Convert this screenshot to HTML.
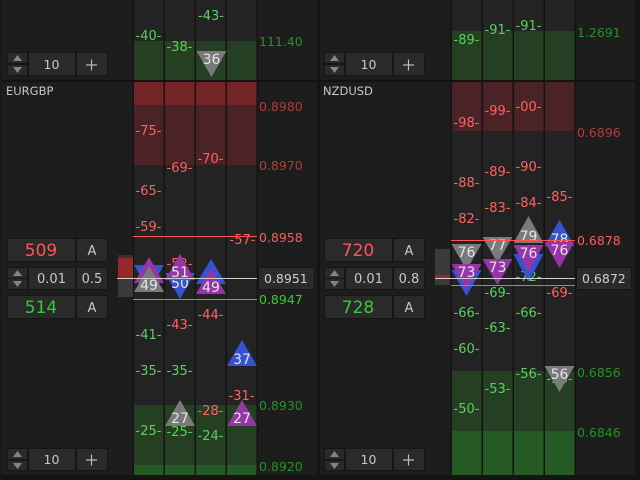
<!DOCTYPE html>
<html><head><meta charset="utf-8"><style>
html,body{margin:0;padding:0;background:#1d1d1d;width:640px;height:480px;overflow:hidden}
svg{display:block}
.lb{font-size:13px;text-anchor:middle}
.r{fill:#ff6262}.g{fill:#5cd05c}
.pl{font-size:12.5px}
.tt{font-size:14px;fill:#e4e4e4;text-anchor:middle}
.ct{fill:#c8c8c8;text-anchor:middle}
</style></head><body>
<svg width="640" height="480" viewBox="0 0 640 480" font-family="'DejaVu Sans','Liberation Sans',sans-serif">
<rect width="640" height="480" fill="#1d1d1d"/>
<rect x="133" y="0" width="124" height="475" fill="#232323"/>
<rect x="451" y="0" width="124" height="475" fill="#232323"/>
<rect x="133" y="41" width="124" height="39" fill="#243f22"/>
<rect x="133" y="82" width="124" height="23" fill="#732426"/>
<rect x="133" y="105" width="124" height="60" fill="#4b2326"/>
<rect x="133" y="405" width="124" height="60" fill="#243f22"/>
<rect x="133" y="465" width="124" height="10" fill="#255a25"/>
<rect x="451" y="31" width="124" height="49" fill="#243f22"/>
<rect x="451" y="82" width="124" height="49" fill="#4b2326"/>
<rect x="451" y="371" width="124" height="60" fill="#243f22"/>
<rect x="451" y="431" width="124" height="44" fill="#255a25"/>
<g fill="#131313">
<rect x="132.5" y="0" width="1.5" height="475"/><rect x="163.5" y="0" width="1.5" height="475"/><rect x="194.5" y="0" width="1.5" height="475"/><rect x="225.5" y="0" width="1.5" height="475"/><rect x="256.5" y="0" width="1.5" height="475"/>
<rect x="450.5" y="0" width="1.5" height="475"/><rect x="481.5" y="0" width="1.5" height="475"/><rect x="512.5" y="0" width="1.5" height="475"/><rect x="543.5" y="0" width="1.5" height="475"/><rect x="574.5" y="0" width="1.5" height="475"/>
</g>
<rect x="0" y="80" width="640" height="2" fill="#131313"/>
<rect x="317" y="0" width="3" height="480" fill="#141414"/>
<rect x="635" y="0" width="5" height="480" fill="#141414"/>
<rect x="0" y="475" width="640" height="5" fill="#141414"/>
<rect x="0" y="0" width="2" height="480" fill="#181818"/>

<g class="lb">
<text class="g" x="211" y="20">-43-</text>
<text class="g" x="148.5" y="40">-40-</text>
<text class="g" x="179.5" y="51">-38-</text>
<text class="r" x="148.5" y="135">-75-</text>
<text class="r" x="179.5" y="172">-69-</text>
<text class="r" x="210.5" y="163">-70-</text>
<text class="r" x="148.5" y="195">-65-</text>
<text class="r" x="148.5" y="231">-59-</text>
<text class="r" x="242.5" y="244">-57-</text>
<text class="r" x="179.5" y="268">-52-</text>
<text class="r" x="210.5" y="319">-44-</text>
<text class="r" x="179.5" y="329">-43-</text>
<text class="g" x="148.5" y="339">-41-</text>
<text class="g" x="148.5" y="375">-35-</text>
<text class="g" x="179.5" y="375">-35-</text>
<text class="r" x="241.5" y="400">-31-</text>
<text class="r" x="210.5" y="415">-28-</text>
<text class="g" x="148.5" y="435">-25-</text>
<text class="g" x="179.5" y="436">-25-</text>
<text class="g" x="210.5" y="440">-24-</text>
</g>
<g class="lb">
<text class="g" x="466.5" y="44">-89-</text>
<text class="g" x="497.5" y="34">-91-</text>
<text class="g" x="528.5" y="30">-91-</text>
<text class="r" x="466.5" y="127">-98-</text>
<text class="r" x="497.5" y="115">-99-</text>
<text class="r" x="528.5" y="111">-00-</text>
<text class="r" x="466.5" y="187">-88-</text>
<text class="r" x="497.5" y="176">-89-</text>
<text class="r" x="528.5" y="171">-90-</text>
<text class="r" x="466.5" y="223">-82-</text>
<text class="r" x="497.5" y="212">-83-</text>
<text class="r" x="528.5" y="207">-84-</text>
<text class="r" x="559.5" y="201">-85-</text>
<text class="g" x="528.5" y="281">-72-</text>
<text class="g" x="497.5" y="297">-69-</text>
<text class="r" x="559.5" y="297">-69-</text>
<text class="g" x="466.5" y="317">-66-</text>
<text class="g" x="528.5" y="317">-66-</text>
<text class="g" x="497.5" y="332">-63-</text>
<text class="g" x="466.5" y="353">-60-</text>
<text class="g" x="528.5" y="378">-56-</text>
<text class="g" x="559.5" y="383">-56-</text>
<text class="g" x="497.5" y="393">-53-</text>
<text class="g" x="466.5" y="413">-50-</text>
</g>

<polygon points="196.5,51 226.5,51 211.5,77" fill="#7a7a7a"/><text class="tt" x="211.5" y="64">36</text>
<polygon points="134,265 164,265 149,291" fill="#3452d2"/>
<polygon points="149,257 134,283 164,283" fill="#9636a6"/>
<polygon points="149,266 134,292 164,292" fill="#7a7a7a"/><text class="tt" x="149" y="290">49</text>
<polygon points="165,273 195,273 180,299" fill="#3452d2"/><text class="tt" x="180" y="288">50</text>
<polygon points="180,254 165,280 195,280" fill="#9636a6"/><text class="tt" x="180" y="277">51</text>
<polygon points="211,259 196,284 226,284" fill="#3452d2"/>
<polygon points="211,268 196,294 226,294" fill="#9636a6"/><text class="tt" x="211" y="292">49</text>
<polygon points="242,340 227,366 257,366" fill="#3452d2"/><text class="tt" x="242" y="364">37</text>
<polygon points="180,400 165,426 195,426" fill="#7a7a7a"/><text class="tt" x="180" y="423">27</text>
<polygon points="242,400 227,426 257,426" fill="#9636a6"/><text class="tt" x="242" y="423">27</text>

<polygon points="451.5,270 481.5,270 466.5,296" fill="#3452d2"/>
<polygon points="451.5,244 481.5,244 466.5,270" fill="#7a7a7a"/><text class="tt" x="466.5" y="257">76</text>
<polygon points="451.5,264 481.5,264 466.5,289" fill="#9636a6"/><text class="tt" x="466.5" y="277">73</text>
<polygon points="482.5,237 512.5,237 497.5,263" fill="#7a7a7a"/><text class="tt" x="497.5" y="250">77</text>
<polygon points="482.5,259 512.5,259 497.5,285" fill="#9636a6"/><text class="tt" x="497.5" y="272">73</text>
<polygon points="528.5,216 513.5,243 543.5,243" fill="#7a7a7a"/><text class="tt" x="528.5" y="241">79</text>
<polygon points="513.5,254 543.5,254 528.5,282" fill="#3452d2"/>
<polygon points="513.5,245 543.5,245 528.5,272" fill="#9636a6"/><text class="tt" x="528.5" y="258">76</text>
<polygon points="559.5,220 544.5,246 574.5,246" fill="#3452d2"/><text class="tt" x="559.5" y="244">78</text>
<polygon points="544.5,242 574.5,242 559.5,268" fill="#9636a6"/><text class="tt" x="559.5" y="255">76</text>
<polygon points="544.5,366 574.5,366 559.5,392" fill="#7a7a7a"/><text class="tt" x="559.5" y="379">56</text>

<rect x="118" y="255" width="15" height="3" fill="#333"/>
<rect x="118" y="258" width="15" height="20" fill="#952828"/>
<rect x="118" y="278" width="15" height="19" fill="#3a3a3a"/>
<rect x="435" y="249" width="15" height="36" fill="#3a3a3a"/>
<rect x="435" y="275" width="15" height="3" fill="#9a2a2a"/>

<rect x="133" y="236" width="124" height="1" fill="#ff5252"/>
<rect x="117" y="278" width="140" height="1" fill="#d0d0d0"/>
<rect x="133" y="299" width="124" height="1" fill="#3cc83c"/>
<rect x="451" y="240" width="124" height="1" fill="#ff5252"/>
<rect x="435" y="278" width="140" height="1" fill="#d0d0d0"/>
<rect x="451" y="285" width="124" height="1" fill="#3cc83c"/>

<g class="pl">
<text x="259" y="46" fill="#229422">111.40</text>
<text x="259" y="111" fill="#b53a3a">0.8980</text>
<text x="259" y="170" fill="#b53a3a">0.8970</text>
<text x="259" y="242" fill="#ff5c5c">0.8958</text>
<rect x="258.5" y="267.5" width="56" height="22" fill="#2b2b2b" stroke="#151515"/>
<text x="264" y="283" fill="#cfcfcf">0.8951</text>
<text x="259" y="304" fill="#36cc36">0.8947</text>
<text x="259" y="410" fill="#229422">0.8930</text>
<text x="259" y="471" fill="#229422">0.8920</text>
</g>
<g class="pl">
<text x="577" y="37" fill="#229422">1.2691</text>
<text x="577" y="137" fill="#b53a3a">0.6896</text>
<text x="577" y="245" fill="#ff5c5c">0.6878</text>
<rect x="576.5" y="267.5" width="55" height="22" fill="#2b2b2b" stroke="#151515"/>
<text x="582" y="283" fill="#cfcfcf">0.6872</text>
<text x="577" y="377" fill="#229422">0.6856</text>
<text x="577" y="437" fill="#229422">0.6846</text>
</g>

<text x="6" y="95" font-size="11.5" fill="#c8c8c8">EURGBP</text>
<text x="323" y="95" font-size="11.5" fill="#c8c8c8">NZDUSD</text>

<g stroke="#161616" fill="#2a2a2a">
<rect x="7.5" y="52.5" width="20" height="11"/><rect x="7.5" y="64.5" width="20" height="11"/>
<rect x="28.5" y="52.5" width="47" height="23"/><rect x="76.5" y="52.5" width="31" height="23"/>
<rect x="7.5" y="448.5" width="20" height="11"/><rect x="7.5" y="460.5" width="20" height="10"/>
<rect x="28.5" y="448.5" width="47" height="22"/><rect x="76.5" y="448.5" width="31" height="22"/>
<rect x="7.5" y="238.5" width="68" height="23"/><rect x="76.5" y="238.5" width="31" height="23"/>
<rect x="7.5" y="267.5" width="20" height="11"/><rect x="7.5" y="278.5" width="20" height="11"/>
<rect x="28.5" y="267.5" width="47" height="22"/><rect x="76.5" y="267.5" width="31" height="22"/>
<rect x="7.5" y="295.5" width="68" height="23"/><rect x="76.5" y="295.5" width="31" height="23"/>
</g>
<g stroke="#161616" fill="#2a2a2a">
<rect x="324.5" y="52.5" width="20" height="11"/><rect x="324.5" y="64.5" width="20" height="11"/>
<rect x="345.5" y="52.5" width="47" height="23"/><rect x="393.5" y="52.5" width="31" height="23"/>
<rect x="324.5" y="448.5" width="20" height="11"/><rect x="324.5" y="460.5" width="20" height="10"/>
<rect x="345.5" y="448.5" width="47" height="22"/><rect x="393.5" y="448.5" width="31" height="22"/>
<rect x="324.5" y="238.5" width="68" height="23"/><rect x="393.5" y="238.5" width="31" height="23"/>
<rect x="324.5" y="267.5" width="20" height="11"/><rect x="324.5" y="278.5" width="20" height="11"/>
<rect x="345.5" y="267.5" width="47" height="22"/><rect x="393.5" y="267.5" width="31" height="22"/>
<rect x="324.5" y="295.5" width="68" height="23"/><rect x="393.5" y="295.5" width="31" height="23"/>
</g>
<g fill="#858585">
<polygon points="13,61 22,61 17.5,55"/><polygon points="13,67 22,67 17.5,73"/>
<polygon points="13,457 22,457 17.5,451"/><polygon points="13,463 22,463 17.5,469"/>
<polygon points="13,276 22,276 17.5,270"/><polygon points="13,281 22,281 17.5,287"/>
<polygon points="330,61 339,61 334.5,55"/><polygon points="330,67 339,67 334.5,73"/>
<polygon points="330,457 339,457 334.5,451"/><polygon points="330,463 339,463 334.5,469"/>
<polygon points="330,276 339,276 334.5,270"/><polygon points="330,281 339,281 334.5,287"/>
</g>
<g stroke="#bdbdbd" stroke-width="1.2">
<line x1="86" y1="65" x2="97" y2="65"/><line x1="91.5" y1="59.5" x2="91.5" y2="70.5"/>
<line x1="86" y1="460" x2="97" y2="460"/><line x1="91.5" y1="454.5" x2="91.5" y2="465.5"/>
<line x1="403" y1="65" x2="414" y2="65"/><line x1="408.5" y1="59.5" x2="408.5" y2="70.5"/>
<line x1="403" y1="460" x2="414" y2="460"/><line x1="408.5" y1="454.5" x2="408.5" y2="465.5"/>
</g>
<g class="ct" font-size="12.5">
<text x="51.5" y="69">10</text><text x="51.5" y="464">10</text>
<text x="368.5" y="69">10</text><text x="368.5" y="464">10</text>
</g>
<g class="ct" font-size="13">
<text x="51.5" y="283">0.01</text><text x="92" y="283">0.5</text>
<text x="368.5" y="283">0.01</text><text x="409" y="283">0.8</text>
<text x="92" y="255">A</text><text x="92" y="312">A</text>
<text x="409" y="255">A</text><text x="409" y="312">A</text>
</g>
<g font-size="17" text-anchor="middle">
<text x="41" y="256" fill="#ff5555">509</text>
<text x="41" y="313" fill="#33cc33">514</text>
<text x="358" y="256" fill="#ff5555">720</text>
<text x="358" y="313" fill="#33cc33">728</text>
</g>
</svg>
</body></html>
